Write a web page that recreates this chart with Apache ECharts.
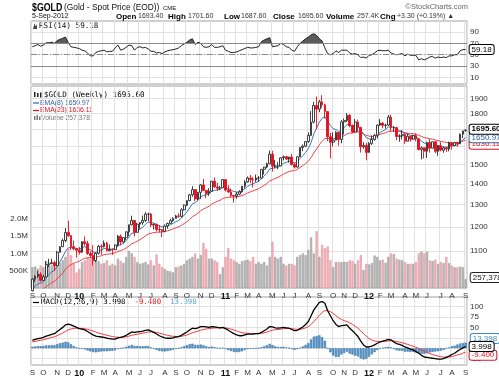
<!DOCTYPE html>
<html>
<head>
<meta charset="utf-8">
<script src="https://cdn.jsdelivr.net/npm/echarts@6.0.0/dist/echarts.min.js"></script>
<style>
html,body{margin:0;padding:0;background:#fff;}
#chart{width:499px;height:378px;}
</style>
</head>
<body>
<div id="chart"></div>
<script>
// ---------------- data (weekly) ----------------
const firstWeek = [2009, 8, 4];   // first weekly bar: week ending Fri 4 Sep 2009
const weekCount = 158;
const categories = [];
for (let i = 0; i < weekCount; i++) {
  categories.push(new Date(Date.UTC(firstWeek[0], firstWeek[1], firstWeek[2] + 7 * i)).toISOString().slice(0, 10));
}

const openPrices = [
  955, 996, 1006, 1013, 991, 1004, 1049, 1052, 1056, 1045,
  1096, 1118, 1143, 1176, 1163, 1118, 1110, 1104, 1096, 1138,
  1131, 1091, 1083, 1064, 1092, 1120, 1118, 1133, 1102, 1107,
  1106, 1125, 1161, 1137, 1155, 1179, 1209, 1228, 1177, 1212,
  1218, 1228, 1256, 1256, 1208, 1210, 1189, 1188, 1181, 1204,
  1215, 1227, 1237, 1248, 1246, 1276, 1297, 1318, 1346, 1371,
  1326, 1358, 1394, 1367, 1352, 1363, 1413, 1384, 1378, 1380,
  1421, 1369, 1360, 1343, 1340, 1349, 1360, 1388, 1409, 1429,
  1421, 1419, 1429, 1429, 1474, 1486, 1504, 1556, 1491, 1492,
  1492, 1536, 1542, 1529, 1540, 1500, 1486, 1542, 1594, 1601,
  1628, 1664, 1745, 1852, 1828, 1876, 1856, 1812, 1656, 1624,
  1636, 1682, 1640, 1747, 1755, 1788, 1724, 1684, 1746, 1713,
  1598, 1606, 1566, 1617, 1640, 1665, 1727, 1739, 1725, 1726,
  1776, 1710, 1711, 1658, 1662, 1669, 1630, 1659, 1642, 1663,
  1644, 1582, 1592, 1573, 1622, 1590, 1627, 1572, 1604, 1579,
  1592, 1585, 1620, 1605, 1622, 1615, 1671, 1693.4
];
const highPrices = [
  1000, 1010, 1025, 1020, 1011, 1062, 1071, 1071, 1063, 1101,
  1119, 1151, 1195, 1227, 1165, 1143, 1110, 1117, 1140, 1160,
  1142, 1100, 1124, 1095, 1125, 1128, 1143, 1138, 1127, 1111,
  1126, 1166, 1168, 1157, 1180, 1210, 1249, 1230, 1217, 1221,
  1250, 1265, 1262, 1261, 1215, 1215, 1208, 1190, 1211, 1218,
  1236, 1242, 1253, 1260, 1283, 1300, 1320, 1349, 1388, 1373,
  1360, 1398, 1424, 1367, 1378, 1414, 1431, 1405, 1389, 1424,
  1423, 1393, 1377, 1345, 1360, 1368, 1389, 1418, 1437, 1445,
  1435, 1447, 1439, 1475, 1487, 1510, 1577, 1575, 1525, 1512,
  1538, 1548, 1547, 1542, 1557, 1510, 1545, 1595, 1611, 1630,
  1682, 1815, 1877, 1912, 1888, 1921, 1864, 1812, 1680, 1682,
  1690, 1683, 1758, 1768, 1802, 1796, 1730, 1765, 1761, 1713,
  1624, 1621, 1626, 1664, 1672, 1730, 1764, 1745, 1735, 1790,
  1792, 1720, 1716, 1671, 1696, 1680, 1676, 1663, 1668, 1675,
  1645, 1600, 1595, 1628, 1642, 1628, 1628, 1604, 1625, 1598,
  1597, 1627, 1623, 1626, 1627, 1675, 1692, 1701.6
];
const lowPrices = [
  953, 986, 1000, 987, 990, 1003, 1040, 1052, 1026, 1043,
  1095, 1117, 1136, 1158, 1105, 1104, 1075, 1087, 1094, 1122,
  1086, 1075, 1045, 1058, 1087, 1087, 1115, 1100, 1100, 1086,
  1106, 1118, 1124, 1131, 1144, 1161, 1207, 1160, 1176, 1193,
  1209, 1221, 1224, 1200, 1189, 1181, 1176, 1157, 1177, 1192,
  1213, 1222, 1236, 1240, 1241, 1272, 1292, 1315, 1337, 1315,
  1319, 1326, 1365, 1330, 1341, 1359, 1380, 1364, 1369, 1380,
  1362, 1355, 1335, 1309, 1327, 1344, 1356, 1377, 1405, 1403,
  1381, 1409, 1410, 1426, 1447, 1480, 1501, 1462, 1480, 1475,
  1490, 1522, 1525, 1510, 1495, 1478, 1483, 1540, 1573, 1596,
  1620, 1663, 1737, 1702, 1808, 1837, 1768, 1630, 1533, 1600,
  1636, 1603, 1618, 1670, 1745, 1713, 1680, 1683, 1685, 1565,
  1588, 1523, 1565, 1608, 1633, 1645, 1721, 1707, 1705, 1722,
  1688, 1684, 1635, 1627, 1640, 1613, 1630, 1627, 1638, 1630,
  1577, 1527, 1532, 1535, 1565, 1588, 1562, 1547, 1572, 1564,
  1569, 1572, 1582, 1600, 1598, 1614, 1648, 1687.6
];
const closePrices = [
  996, 1006, 1013, 991, 1004, 1049, 1052, 1056, 1045, 1096,
  1118, 1143, 1176, 1163, 1118, 1110, 1104, 1096, 1138, 1131,
  1091, 1083, 1064, 1092, 1120, 1118, 1133, 1102, 1107, 1106,
  1125, 1161, 1137, 1155, 1179, 1209, 1228, 1177, 1212, 1218,
  1228, 1256, 1256, 1208, 1210, 1189, 1188, 1181, 1204, 1215,
  1227, 1237, 1248, 1246, 1276, 1297, 1318, 1346, 1371, 1326,
  1358, 1394, 1367, 1352, 1363, 1413, 1384, 1378, 1380, 1421,
  1369, 1360, 1343, 1340, 1349, 1360, 1388, 1409, 1429, 1421,
  1419, 1429, 1429, 1474, 1486, 1504, 1556, 1491, 1492, 1492,
  1536, 1542, 1529, 1540, 1500, 1486, 1542, 1594, 1601, 1628,
  1664, 1745, 1852, 1828, 1876, 1856, 1812, 1656, 1624, 1636,
  1682, 1640, 1747, 1755, 1788, 1724, 1684, 1746, 1713, 1598,
  1606, 1566, 1617, 1640, 1665, 1727, 1739, 1725, 1726, 1776,
  1710, 1711, 1658, 1662, 1669, 1630, 1659, 1642, 1663, 1644,
  1582, 1592, 1573, 1622, 1590, 1627, 1572, 1604, 1579, 1592,
  1585, 1620, 1605, 1622, 1615, 1671, 1691, 1695.6
];
// weekly volume, thousands
const volumeK = [
  600, 620, 560, 650, 600, 780, 720, 650, 700, 760,
  720, 800, 900, 1130, 950, 700, 450, 550, 750, 800,
  880, 850, 900, 800, 780, 700, 720, 800, 650, 700,
  650, 850, 780, 720, 900, 1070, 1000, 900, 750, 700,
  720, 750, 680, 800, 650, 970, 700, 600, 550, 500,
  480, 450, 600, 620, 650, 700, 800, 850, 900, 1000,
  850, 950, 1300, 1130, 850, 850, 800, 750, 400, 600,
  900, 1150, 850, 800, 750, 700, 780, 800, 820, 780,
  900, 700, 750, 700, 750, 650, 900, 1340, 900, 850,
  900, 700, 650, 700, 700, 650, 900, 950, 1000, 950,
  1100, 1460, 1000, 1640, 900, 1250, 1150, 1200, 800, 600,
  750, 750, 750, 760, 750, 800, 780, 700, 800, 950,
  520, 700, 680, 720, 940, 900, 800, 820, 730, 900,
  1000, 980, 850, 820, 800, 750, 700, 700, 700, 750,
  1000, 1050, 1000, 1050, 800, 780, 820, 700, 750, 720,
  900, 720, 650, 600, 600, 620, 600, 257.378
];
const ema8 = [
  958.7, 969.4, 979.1, 981.7, 986.7, 1000.5, 1011.9, 1021.7, 1026.9, 1042.2,
  1059.0, 1077.7, 1099.5, 1113.6, 1114.6, 1113.6, 1111.5, 1108.0, 1114.7, 1118.3,
  1112.2, 1105.7, 1096.4, 1095.4, 1100.9, 1104.7, 1111.0, 1109.0, 1108.6, 1108.0,
  1111.8, 1122.7, 1125.9, 1132.4, 1142.7, 1157.4, 1173.1, 1174.0, 1182.4, 1190.3,
  1198.7, 1211.4, 1221.3, 1218.3, 1216.5, 1210.4, 1205.4, 1200.0, 1200.9, 1204.0,
  1209.1, 1215.3, 1222.6, 1227.8, 1238.5, 1251.5, 1266.3, 1284.0, 1303.3, 1308.3,
  1319.3, 1335.9, 1342.8, 1344.8, 1348.8, 1363.1, 1367.7, 1370.0, 1372.2, 1383.0,
  1379.9, 1375.5, 1368.3, 1362.0, 1359.1, 1359.3, 1365.7, 1375.3, 1387.2, 1394.7,
  1400.1, 1406.5, 1411.5, 1425.4, 1438.9, 1453.4, 1476.2, 1479.5, 1482.3, 1484.4,
  1495.9, 1506.1, 1511.2, 1517.6, 1513.7, 1507.5, 1515.2, 1532.7, 1547.9, 1565.7,
  1587.5, 1622.5, 1673.5, 1707.8, 1745.2, 1769.8, 1779.2, 1751.8, 1723.4, 1704.0,
  1699.1, 1686.0, 1699.5, 1711.9, 1728.8, 1727.7, 1718.0, 1724.2, 1721.7, 1694.2,
  1674.6, 1650.5, 1643.0, 1642.4, 1647.4, 1665.1, 1681.5, 1691.2, 1698.9, 1716.0,
  1714.7, 1713.9, 1701.5, 1692.7, 1687.4, 1674.7, 1671.2, 1664.7, 1664.3, 1659.8,
  1642.5, 1631.3, 1618.3, 1619.1, 1612.7, 1615.9, 1606.1, 1605.6, 1599.7, 1598.0,
  1595.1, 1600.6, 1601.6, 1606.1, 1608.1, 1622.1, 1637.4, 1650.97
];
const ema23 = [
  944.7, 949.8, 955.1, 958.1, 961.9, 969.2, 976.1, 982.8, 988.0, 997.0,
  1007.1, 1018.4, 1031.5, 1042.5, 1048.8, 1053.9, 1058.0, 1061.2, 1067.6, 1072.9,
  1074.4, 1075.1, 1074.2, 1075.7, 1079.4, 1082.6, 1086.8, 1088.1, 1089.6, 1091.0,
  1093.8, 1099.4, 1102.5, 1106.9, 1112.9, 1120.9, 1129.8, 1133.8, 1140.3, 1146.8,
  1153.5, 1162.1, 1169.9, 1173.1, 1176.2, 1177.2, 1178.1, 1178.4, 1180.5, 1183.4,
  1187.0, 1191.2, 1195.9, 1200.1, 1206.4, 1214.0, 1222.6, 1232.9, 1244.4, 1251.2,
  1260.1, 1271.3, 1279.2, 1285.3, 1291.8, 1301.9, 1308.7, 1314.5, 1319.9, 1328.4,
  1331.7, 1334.1, 1334.8, 1335.3, 1336.4, 1338.4, 1342.5, 1348.1, 1354.8, 1360.3,
  1365.2, 1370.5, 1375.4, 1383.6, 1392.1, 1401.5, 1414.3, 1420.7, 1426.7, 1432.1,
  1440.8, 1449.2, 1455.9, 1462.9, 1466.0, 1467.6, 1473.8, 1483.8, 1493.6, 1504.8,
  1518.1, 1537.0, 1563.2, 1585.3, 1609.5, 1630.0, 1645.2, 1646.1, 1644.3, 1643.6,
  1646.8, 1646.2, 1654.6, 1663.0, 1673.4, 1677.6, 1678.1, 1683.8, 1686.2, 1678.9,
  1672.8, 1663.9, 1660.0, 1658.3, 1658.9, 1664.6, 1670.8, 1675.3, 1679.5, 1687.6,
  1689.4, 1691.2, 1688.5, 1686.3, 1684.8, 1680.3, 1678.5, 1675.5, 1674.4, 1671.9,
  1664.4, 1658.4, 1651.3, 1648.8, 1643.9, 1642.5, 1636.6, 1633.9, 1629.3, 1626.2,
  1622.8, 1622.6, 1621.1, 1621.2, 1620.7, 1624.9, 1630.4, 1636.11
];
const rsi14 = [
  64, 66, 68, 65, 67, 71, 71, 72, 70, 75,
  77, 79, 81, 71, 64, 63, 62, 61, 58, 57,
  53, 48, 48, 54, 56, 57, 58, 55, 56, 56,
  62, 67, 58, 60, 63, 67, 66, 58, 63, 64,
  62, 63, 60, 56, 56, 53, 54, 52, 55, 57,
  58, 59, 60, 62, 66, 69, 72, 76, 78, 68,
  72, 70, 64, 63, 64, 68, 63, 63, 64, 66,
  58, 56, 54, 54, 55, 57, 59, 61, 63, 62,
  62, 63, 64, 73, 76, 78, 80, 64, 65, 66,
  70, 68, 64, 63, 58, 56, 64, 70, 74, 78,
  81, 85, 87, 84, 78, 74, 62, 52, 50, 52,
  57, 54, 58, 58, 58, 53, 51, 52, 50, 45,
  46, 44, 49, 50, 53, 57, 58, 57, 57, 58,
  53, 51, 50, 51, 52, 48, 51, 49, 49, 49,
  41, 43, 41, 43, 46, 47, 44, 46, 45, 46,
  45, 48, 48, 50, 50, 57, 59, 59.18
];
const macdLine = [
  19, 21, 23, 24, 26, 29, 31, 33, 35, 40,
  45, 50, 56, 58, 56, 53, 50, 47, 46, 44,
  40, 36, 32, 29, 28, 27, 26, 24, 23, 22,
  22, 25, 26, 28, 31, 35, 39, 38, 39, 40,
  41, 43, 44, 41, 38, 34, 30, 27, 25, 24,
  24, 25, 27, 28, 31, 35, 39, 44, 48, 47,
  49, 52, 52, 51, 50, 52, 51, 50, 49, 50,
  47, 43, 39, 35, 32, 30, 30, 32, 34, 34,
  34, 35, 35, 38, 42, 46, 52, 51, 49, 48,
  49, 50, 49, 48, 45, 42, 43, 47, 51, 57,
  64, 78, 92, 101, 110, 112, 108, 90, 78, 66,
  57, 52, 54, 55, 56, 48, 42, 35, 28, 17,
  8, 3, 3, 5, 8, 12, 15, 17, 19, 21,
  20, 15, 11, 9, 7, 3, 1, -2, -4, -8,
  -12, -17, -21, -22, -23, -24, -25, -26, -26, -25,
  -22, -19, -15, -12, -7, -3, 1, 3.998
];
const signalLine = [
  15.5, 16.6, 17.9, 19.1, 20.5, 22.2, 24.0, 25.8, 27.6, 30.1,
  33.1, 36.5, 40.4, 43.9, 46.3, 47.6, 48.1, 47.9, 47.5, 46.8,
  45.4, 43.5, 41.2, 38.8, 36.6, 34.7, 33.0, 31.2, 29.6, 28.0,
  26.8, 26.4, 26.3, 26.6, 27.5, 29.0, 31.0, 32.4, 33.7, 35.0,
  36.2, 37.6, 38.9, 39.3, 39.0, 38.0, 36.4, 34.5, 32.6, 30.9,
  29.5, 28.6, 28.3, 28.2, 28.8, 30.0, 31.8, 34.2, 37.0, 39.0,
  41.0, 43.2, 45.0, 46.2, 47.0, 48.0, 48.6, 48.9, 48.9, 49.1,
  48.7, 47.6, 45.9, 43.7, 41.4, 39.1, 37.3, 36.2, 35.8, 35.4,
  35.1, 35.1, 35.1, 35.7, 37.0, 38.8, 41.4, 43.3, 44.4, 45.1,
  45.9, 46.7, 47.2, 47.4, 46.9, 45.9, 45.3, 45.6, 46.7, 48.8,
  51.8, 57.0, 64.0, 71.4, 79.1, 85.7, 90.2, 90.2, 87.8, 83.4,
  78.1, 72.9, 69.1, 66.3, 64.2, 61.0, 57.2, 52.8, 47.8, 41.6,
  34.9, 28.5, 23.4, 19.7, 17.4, 16.3, 16.0, 16.2, 16.8, 17.6,
  18.1, 17.5, 16.2, 14.8, 13.2, 11.2, 9.2, 6.9, 4.7, 2.2,
  -0.6, -3.9, -7.3, -10.2, -12.8, -15.0, -17.0, -18.8, -20.2, -21.2,
  -21.4, -20.9, -19.7, -18.2, -16.0, -14.5, -11.8, -9.4
];
const macdHist = [
  3.5, 4.4, 5.1, 4.9, 5.5, 6.8, 7.0, 7.2, 7.4, 9.9,
  11.9, 13.5, 15.6, 14.1, 9.7, 5.4, 1.9, -0.9, -1.5, -2.8,
  -5.4, -7.5, -9.2, -9.8, -8.6, -7.7, -7.0, -7.2, -6.6, -6.0,
  -4.8, -1.4, -0.3, 1.4, 3.5, 6.0, 8.0, 5.6, 5.3, 5.0,
  4.8, 5.4, 5.1, 1.7, -1.0, -4.0, -6.4, -7.5, -7.6, -6.9,
  -5.5, -3.6, -1.3, -0.2, 2.2, 5.0, 7.2, 9.8, 11.0, 8.0,
  8.0, 8.8, 7.0, 4.8, 3.0, 4.0, 2.4, 1.1, 0.1, 0.9,
  -1.7, -4.6, -6.9, -8.7, -9.4, -9.1, -7.3, -4.2, -1.8, -1.4,
  -1.1, -0.1, -0.1, 2.3, 5.0, 7.2, 10.6, 7.7, 4.6, 2.9,
  3.1, 3.3, 1.8, 0.6, -1.9, -3.9, -2.3, 1.4, 4.3, 8.2,
  12.2, 21.0, 28.0, 29.6, 30.9, 26.3, 17.8, -0.2, -9.8, -17.4,
  -21.1, -20.9, -15.1, -11.3, -8.2, -13.0, -15.2, -17.8, -19.8, -24.6,
  -26.9, -25.5, -20.4, -14.7, -9.4, -4.3, -1.0, 0.8, 2.2, 3.4,
  1.9, -2.5, -5.2, -5.8, -6.2, -8.2, -8.2, -8.9, -8.7, -10.2,
  -11.4, -13.1, -13.7, -11.8, -10.2, -9.0, -8.0, -7.2, -5.8, -3.8,
  -0.6, 1.9, 4.7, 6.2, 9.0, 11.5, 12.8, 13.398
];
const priceTicks = [1100, 1200, 1300, 1400, 1500, 1600, 1700, 1800, 1900];
const volumeTicksK = [500, 1000, 1500, 2000];
const rsiTicks = [10, 30, 50, 70, 90];
const macdTicks = [-25, 0, 25, 50, 75, 100];
const macdLabelTicks = [-25, 25, 50, 75, 100];

// ---------------- chart ----------------
const SANS = '"Liberation Sans", Arial, sans-serif';
const MONO = '"DejaVu Sans Mono", "Liberation Mono", monospace';
const GRID_COLOR = '#e1e1e1';
const BORDER = '#a0a0a0';
const UP_RED = '#e8101e';
const BLUE = '#2d64a6';
const monthLetters = 'JFMAMJJASOND';
const isMonthStart = i => i === 0 || categories[i].slice(5, 7) !== categories[i - 1].slice(5, 7);

const lg = Math.log;
const candleData = openPrices.map((o, i) => [lg(o), lg(closePrices[i]), lg(lowPrices[i]), lg(highPrices[i])]);
const volumeData = volumeK.map((v, i) => {
  const down = closePrices[i] < openPrices[i];
  return {value: v, itemStyle: {color: down ? '#f4b6be' : '#bcbcbc', borderColor: down ? '#e5919c' : '#999999', borderWidth: 0.6}};
});
const lastIdx = weekCount - 1;

function boxLabel(color, extra) {
  return Object.assign({
    show: true, color: color, borderColor: color, borderWidth: 1, backgroundColor: '#fff',
    borderRadius: 2, padding: [1, 2, 0, 2], fontSize: 8, fontFamily: SANS, fontWeight: 'bold'
  }, extra || {});
}
volumeData[lastIdx].label = boxLabel('#222', {position: 'right', distance: 4, offset: [0, -6], fontWeight: 'normal', formatter: p => Math.round(p.value * 1000).toLocaleString('en-US')});
const histData = macdHist.map(v => v);
histData[lastIdx] = {value: macdHist[lastIdx], label: boxLabel('#3d8cc8', {position: 'right', distance: 4, offset: [0, -7], fontWeight: 'normal', formatter: p => p.value.toFixed(3)})};

function makeX(gridIndex, showLabel) {
  return {
    type: 'category', gridIndex: gridIndex, data: categories, boundaryGap: true,
    axisLine: {show: false}, axisTick: {show: false},
    axisLabel: {
      show: showLabel, interval: (i) => isMonthStart(i), margin: 4,
      fontSize: 8, color: '#333', fontFamily: SANS,
      formatter: (v) => { const m = +v.slice(5, 7); return m === 1 ? '{yr|' + v.slice(2, 4) + '}' : monthLetters[m - 1]; },
      rich: {yr: {fontWeight: 'bold', fontSize: 9, color: '#111', fontFamily: SANS}}
    },
    splitLine: {show: true, interval: (i) => isMonthStart(i), lineStyle: {color: GRID_COLOR, width: 1}}
  };
}
function makeY(gridIndex, min, max, tickVals, labelVals, fmt, position, split) {
  return {
    type: 'value', gridIndex: gridIndex, min: min, max: max, position: position,
    axisLine: {show: false},
    axisTick: {show: false, customValues: tickVals},
    axisLabel: {customValues: labelVals, formatter: fmt, fontSize: 8, color: '#333', margin: 3, fontFamily: SANS},
    splitLine: {show: split, lineStyle: {color: GRID_COLOR, width: 1}}
  };
}

const chart = echarts.init(document.getElementById('chart'), null, {renderer: 'canvas'});

function txt(x, y, text, font, fill, align) {
  return {type: 'text', x: x, y: y, silent: true, style: {text: text, font: font, fill: fill, align: align || 'left', verticalAlign: 'middle'}};
}
function dash(x, y, color) {
  return {type: 'line', silent: true, shape: {x1: x, y1: y, x2: x + 6, y2: y}, style: {stroke: color, lineWidth: 1.2}};
}
const hdrBold = 'bold 8px ' + SANS;
const hdrNum = '7px ' + SANS;

const option = {
  animation: false,
  backgroundColor: '#fff',
  textStyle: {fontFamily: SANS},
  grid: [
    {left: 31, right: 32, top: 21, height: 63, show: true, borderColor: BORDER, borderWidth: 1},
    {left: 31, right: 32, top: 86, height: 202, show: true, borderColor: BORDER, borderWidth: 1},
    {left: 31, right: 32, top: 297, height: 69, show: true, borderColor: BORDER, borderWidth: 1}
  ],
  xAxis: [makeX(0, false), makeX(1, true), makeX(2, true)],
  yAxis: [
    makeY(0, -1.4, 109.3, rsiTicks, rsiTicks, v => v, 'right', true),
    makeY(1, lg(964.6), lg(1985.5), priceTicks.map(lg), priceTicks.map(lg), v => Math.round(Math.exp(v)), 'right', true),
    makeY(1, 0, 5840, volumeTicksK, volumeTicksK, v => v < 1000 ? v + 'K' : (v / 1000).toFixed(1) + 'M', 'left', false),
    makeY(2, -40.2, 122.9, macdTicks, macdLabelTicks, v => v, 'right', true)
  ],
  visualMap: [{
    show: false, type: 'piecewise', seriesIndex: 5, dimension: 1,
    pieces: [{gt: 70, lte: 1000, color: '#5c5c5c'}, {gte: -1000, lte: 70, color: 'rgba(255,255,255,0)'}]
  }],
  series: [
    { // 0 candles
      type: 'candlestick', xAxisIndex: 1, yAxisIndex: 1, data: candleData, barWidth: 2.2, z: 4,
      itemStyle: {color: '#ffffff', color0: UP_RED, borderColor: '#2a2a2a', borderColor0: UP_RED, borderWidth: 0.9}
    },
    { // 1 volume
      type: 'bar', xAxisIndex: 1, yAxisIndex: 2, data: volumeData, barWidth: '78%', z: 1
    },
    { // 2 EMA 8
      type: 'line', xAxisIndex: 1, yAxisIndex: 1, data: ema8.map(lg), symbol: 'none', z: 3,
      lineStyle: {color: '#3a76b0', width: 1},
      endLabel: boxLabel(BLUE, {distance: 4, fontWeight: 'normal', formatter: p => Math.exp(p.value).toFixed(2)})
    },
    { // 3 EMA 23
      type: 'line', xAxisIndex: 1, yAxisIndex: 1, data: ema23.map(lg), symbol: 'none', z: 2,
      lineStyle: {color: '#f0404a', width: 1},
      endLabel: boxLabel(UP_RED, {distance: 4, offset: [0, 4], fontWeight: 'normal', formatter: p => Math.exp(p.value).toFixed(2)})
    },
    { // 4 close (label carrier)
      type: 'line', xAxisIndex: 1, yAxisIndex: 1, data: closePrices.map(lg), symbol: 'none', z: 6,
      lineStyle: {opacity: 0, width: 0},
      endLabel: boxLabel('#000', {distance: 4, offset: [0, -1], formatter: p => Math.exp(p.value).toFixed(2)})
    },
    { // 5 RSI overbought fill
      type: 'line', xAxisIndex: 0, yAxisIndex: 0, data: rsi14, symbol: 'none', z: 2,
      lineStyle: {width: 0, opacity: 0}, areaStyle: {origin: 'start', opacity: 1}
    },
    { // 6 RSI line
      type: 'line', xAxisIndex: 0, yAxisIndex: 0, data: rsi14, symbol: 'none', z: 4,
      lineStyle: {color: '#222', width: 1},
      endLabel: boxLabel('#000', {distance: 4, fontWeight: 'normal', formatter: p => p.value.toFixed(2)}),
      markLine: {
        silent: true, symbol: 'none', label: {show: false}, animation: false,
        data: [
          {yAxis: 70, lineStyle: {color: '#8a8a8a', type: 'solid', width: 1}},
          {yAxis: 30, lineStyle: {color: '#8a8a8a', type: 'solid', width: 1}},
          {yAxis: 50, lineStyle: {color: '#8a8a8a', type: [6, 2, 1, 2], width: 1}}
        ]
      }
    },
    { // 7 MACD histogram
      type: 'bar', xAxisIndex: 2, yAxisIndex: 3, data: histData, barWidth: '80%', z: 2,
      itemStyle: {color: '#5a9ad0', borderColor: '#2f6c9e', borderWidth: 0.5}
    },
    { // 8 MACD line
      type: 'line', xAxisIndex: 2, yAxisIndex: 3, data: macdLine, symbol: 'none', z: 4,
      lineStyle: {color: '#000', width: 1.3},
      endLabel: boxLabel('#000', {distance: 4, fontWeight: 'normal', formatter: p => p.value.toFixed(3)})
    },
    { // 9 signal
      type: 'line', xAxisIndex: 2, yAxisIndex: 3, data: signalLine, symbol: 'none', z: 3,
      lineStyle: {color: '#f03a3a', width: 1},
      endLabel: boxLabel(UP_RED, {distance: 4, offset: [0, 3], fontWeight: 'normal', formatter: p => p.value.toFixed(3)})
    }
  ],
  graphic: [
    {type: 'text', x: 32, y: 8, scaleX: 0.8, silent: true, style: {text: '$GOLD', font: 'bold 11px ' + SANS, fill: '#000', verticalAlign: 'middle'}},
    txt(64, 8, '(Gold - Spot Price (EOD))', '8.4px ' + SANS, '#111'),
    txt(163, 8.5, 'CME', '6px ' + SANS, '#111'),
    txt(468, 6.5, '\u00A9StockCharts.com', '7.5px ' + SANS, '#666', 'right'),
    txt(32, 16.5, '5-Sep-2012', '7px ' + SANS, '#111'),
    txt(116, 16.5, 'Open', hdrBold, '#000'),
    txt(138, 16.5, '1693.40', hdrNum, '#333'),
    txt(168, 16.5, 'High', hdrBold, '#000'),
    txt(188, 16.5, '1701.60', hdrNum, '#333'),
    txt(224, 16.5, 'Low', hdrBold, '#000'),
    txt(241, 16.5, '1687.60', hdrNum, '#333'),
    txt(273, 16.5, 'Close', hdrBold, '#000'),
    txt(298, 16.5, '1695.60', hdrNum, '#333'),
    txt(326, 16.5, 'Volume', hdrBold, '#000'),
    txt(357, 16.5, '257.4K', hdrNum, '#333'),
    txt(380, 16.5, 'Chg', hdrBold, '#000'),
    txt(397, 16.5, '+3.30 (+0.19%) \u25B2', hdrNum, '#333'),
    // panel legends
    {type: 'polygon', silent: true, shape: {points: [[33, 29], [34.5, 23.5], [36, 26.5], [37, 24], [37, 29]]}, style: {fill: '#444'}},
    txt(39, 26.5, 'RSI(14) 59.18', '7.6px ' + MONO, '#111'),
    {type: 'group', silent: true, children: [
      {type: 'rect', shape: {x: 34, y: 92, width: 1.5, height: 5}, style: {fill: '#222'}},
      {type: 'rect', shape: {x: 37, y: 93, width: 1.5, height: 4}, style: {fill: '#222'}},
      {type: 'rect', shape: {x: 40, y: 92.5, width: 1.5, height: 5}, style: {fill: '#222'}}
    ]},
    txt(44, 95, '$GOLD (Weekly) 1695.60', '7.6px ' + MONO, '#000'),
    dash(33, 103, BLUE),
    txt(40, 103, 'EMA(8) 1650.97', '6.8px ' + SANS, BLUE),
    dash(33, 110.5, UP_RED),
    txt(40, 110.5, 'EMA(23) 1636.11', '6.8px ' + SANS, UP_RED),
    {type: 'group', silent: true, children: [
      {type: 'rect', shape: {x: 34, y: 116, width: 1.5, height: 4}, style: {fill: '#777'}},
      {type: 'rect', shape: {x: 36.5, y: 115, width: 1.5, height: 5}, style: {fill: '#777'}},
      {type: 'rect', shape: {x: 39, y: 116.5, width: 1.5, height: 3.5}, style: {fill: '#777'}}
    ]},
    txt(41, 118, 'Volume 257,378', '6.8px ' + SANS, '#777'),
    dash(33, 302.5, '#000'),
    {type: 'text', x: 41, y: 302.5, silent: true, style: {
      text: '{k|MACD(12,26,9) 3.998, }{r|-9.400}{k|, }{b|13.398}',
      verticalAlign: 'middle',
      rich: {
        k: {font: '7.4px ' + MONO, fill: '#000'},
        r: {font: '7.4px ' + MONO, fill: UP_RED},
        b: {font: '7.4px ' + MONO, fill: '#5aa6d8'}
      }
    }}
  ]
};
chart.setOption(option);
</script>
</body>
</html>
